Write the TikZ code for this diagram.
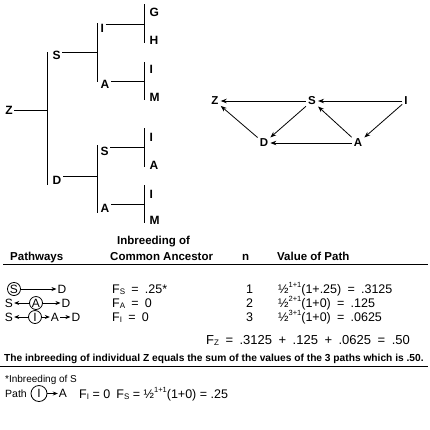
\documentclass[tikz,border=0pt]{standalone}
\usepackage{fontspec}
\setmainfont{Liberation Sans}
\usetikzlibrary{arrows.meta}
\newcommand\sps[1]{\raisebox{0.85ex}{\fontsize{7.5}{7.5}\selectfont #1}}
\newcommand\sbs[1]{\raisebox{-0.2ex}{\fontsize{8}{8}\selectfont #1}}
\newcommand\ws{\hspace{0.5em}}
\begin{document}
\begin{tikzpicture}[x=1pt,y=-1pt,
  lbl/.style={font=\fontsize{12}{12}\selectfont\bfseries, inner sep=1.5pt},
  leaf/.style={lbl, anchor=west},
  bar/.style={line width=1pt},
  ln/.style={line width=0.8pt},
  pl/.style={font=\fontsize{11.5}{12}\selectfont\bfseries, inner sep=2pt},
  arr/.style={line width=0.8pt, -{Stealth[length=6pt,width=4.5pt]}},
  hdr/.style={font=\fontsize{11.5}{12}\selectfont\bfseries, inner sep=0pt, anchor=base west},
  txt/.style={font=\fontsize{12.5}{14}\selectfont, inner sep=0pt, anchor=base west},
  circ/.style={draw, circle, line width=0.8pt, inner sep=0.5pt, minimum size=13pt, font=\fontsize{12}{14}\selectfont},
  pn/.style={font=\fontsize{12}{14}\selectfont, inner sep=1pt},
  sarr/.style={line width=0.7pt, -{Stealth[length=5pt,width=4pt]}}]
\useasboundingbox (0,0) rectangle (430,429);
% ---------- pedigree tree ----------
\node[lbl] (Z) at (9,110) {Z};
\coordinate (v1m) at (47,110);
\coordinate (v1t) at (47,52); \coordinate (v1b) at (47,185);
\draw[ln] (Z) -- (v1m);
\draw[bar] (v1t) -- (v1b);
\node[leaf] (S1) at (51,55) {S};
\node[leaf] (D1) at (51,180) {D};
\coordinate (v2am) at (97,52); \coordinate (v2at) at (97,23); \coordinate (v2ab) at (97,82);
\coordinate (v2bm) at (97,176); \coordinate (v2bt) at (97,145); \coordinate (v2bb) at (97,213);
\draw[ln] (S1.east |- v2am) -- (v2am);
\draw[ln] (D1.east |- v2bm) -- (v2bm);
\draw[bar] (v2at) -- (v2ab);
\draw[bar] (v2bt) -- (v2bb);
\node[leaf] (I2) at (99,28) {I};
\node[leaf] (A2) at (99,84) {A};
\node[leaf] (S3) at (99,151) {S};
\node[leaf] (A3) at (99,208) {A};
\coordinate (v3am) at (144,24); \coordinate (v3at) at (144,4); \coordinate (v3ab) at (144,43);
\coordinate (v3bm) at (144,81); \coordinate (v3bt) at (144,62); \coordinate (v3bb) at (144,100);
\coordinate (v3cm) at (144,147); \coordinate (v3ct) at (144,128); \coordinate (v3cb) at (144,167);
\coordinate (v3dm) at (144,204); \coordinate (v3dt) at (144,185); \coordinate (v3db) at (144,223);
\draw[ln] (I2.east |- v3am) -- (v3am);
\draw[ln] (A2.east |- v3bm) -- (v3bm);
\draw[ln] (S3.east |- v3cm) -- (v3cm);
\draw[ln] (A3.east |- v3dm) -- (v3dm);
\draw[bar] (v3at) -- (v3ab);
\draw[bar] (v3bt) -- (v3bb);
\draw[bar] (v3ct) -- (v3cb);
\draw[bar] (v3dt) -- (v3db);
\node[leaf] (G) at (148,12) {G};
\node[leaf] (H) at (148,40) {H};
\node[leaf] (I4) at (148,69) {I};
\node[leaf] (M4) at (148,97) {M};
\node[leaf] (I5) at (148,137) {I};
\node[leaf] (A5) at (148,165) {A};
\node[leaf] (I6) at (148,194) {I};
\node[leaf] (M6) at (148,220) {M};
% ---------- path diagram ----------
\node[pl] (pZ) at (215,101) {Z};
\node[pl] (pS) at (312,101) {S};
\node[pl] (pI) at (406,101) {I};
\node[pl] (pD) at (264,143) {D};
\node[pl] (pA) at (358,143) {A};
\draw[arr] (pS) -- (pZ);
\draw[arr] (pS) -- (pD);
\draw[arr] (pD) -- (pZ);
\draw[arr] (pA) -- (pD);
\draw[arr] (pA) -- (pS);
\draw[arr] (pI) -- (pS);
\draw[arr] (pI) -- (pA);
% ---------- table ----------
\node[hdr] (h1) at (117,244) {Inbreeding of};
\node[hdr] (h2) at (10,260) {Pathways};
\node[hdr] (h3) at (110,260) {Common Ancestor};
\node[hdr] (h4) at (242,260) {n};
\node[hdr] (h5) at (277,260) {Value of Path};
\coordinate (hl1) at (3,264.5); \coordinate (hl2) at (428,264.5);
\draw[line width=0.8pt] (hl1) -- (hl2);
% row 1
\node[circ] (r1S) at (14,289) {S};
\node[pn] (r1D) at (62,289) {D};
\draw[sarr] (r1S) -- (r1D);
\node[txt] (r1f) at (112,293.5) {F\sbs{S}\ws=\ws.25*};
\node[txt] (r1n) at (246,293.5) {1};
\node[txt] (r1v) at (278,293.5) {½\sps{1+1}(1+.25)\ws=\ws.3125};
% row 2
\node[pn] (r2S) at (9,303) {S};
\node[circ] (r2A) at (36,303) {A};
\node[pn] (r2D) at (66,303) {D};
\draw[sarr] (r2A) -- (r2S);
\draw[sarr] (r2A) -- (r2D);
\node[txt] (r2f) at (112,307.5) {F\sbs{A}\ws=\ws0};
\node[txt] (r2n) at (246,307.5) {2};
\node[txt] (r2v) at (278,307.5) {½\sps{2+1}(1+0)\ws=\ws.125};
% row 3
\node[pn] (r3S) at (9,317) {S};
\node[circ] (r3I) at (35,317) {I};
\node[pn] (r3A) at (55,317) {A};
\node[pn] (r3D) at (76,317) {D};
\draw[sarr] (r3I) -- (r3S);
\draw[sarr] (r3I) -- (r3A);
\draw[sarr] (r3A) -- (r3D);
\node[txt] (r3f) at (112,321.5) {F\sbs{I}\ws=\ws0};
\node[txt] (r3n) at (246,321.5) {3};
\node[txt] (r3v) at (278,321.5) {½\sps{3+1}(1+0)\ws=\ws.0625};
% sum
\node[txt, font=\fontsize{13}{15}\selectfont] (fz) at (206,344.5) {F\sbs{Z}\ws=\ws.3125\ws+\ws.125\ws+\ws.0625\ws=\ws.50};
\node[txt, font=\fontsize{10.2}{12}\selectfont\bfseries] (sent) at (4,361) {The inbreeding of individual Z equals the sum of the values of the 3 paths which is .50.};
\coordinate (bl1) at (0,366.5); \coordinate (bl2) at (428,366.5);
\draw[line width=0.8pt] (bl1) -- (bl2);
\node[txt, font=\fontsize{10}{11}\selectfont] (foot) at (5,382) {*Inbreeding of S};
\node[txt, font=\fontsize{10.5}{12}\selectfont] (path) at (5,397.5) {Path};
\node[circ, minimum size=16pt] (fI) at (39,393.5) {I};
\node[pn] (fA) at (63,393.5) {A};
\draw[sarr] (fI) -- (fA);
\node[txt, font=\fontsize{12.5}{14}\selectfont] (ff) at (79,398) {F\sbs{I} = 0\enspace F\sbs{S} = ½\sps{1+1}(1+0) = .25};
\end{tikzpicture}
\end{document}
